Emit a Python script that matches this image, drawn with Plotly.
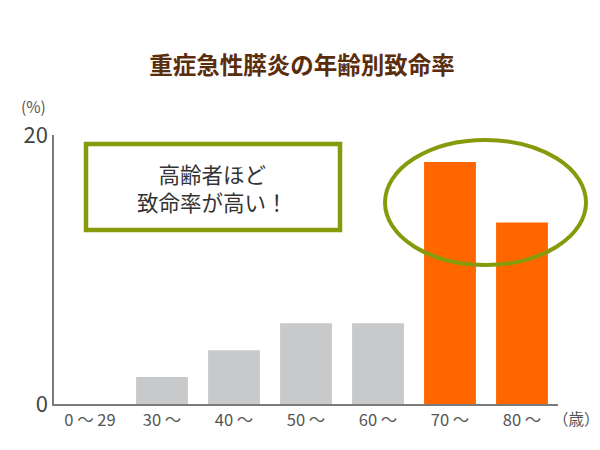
import plotly.graph_objects as go

# age groups and fatality rate (%)
age_groups = ["0 ～ 29", "30 ～", "40 ～", "50 ～", "60 ～", "70 ～", "80 ～"]
fatality = [0, 2, 4, 6, 6, 18, 13.5]
highlight = [False, False, False, False, False, True, True]

GREY = "#c8c9ca"
ORANGE = "#ff6600"
OLIVE = "#879a0c"
FONT = "Noto Sans CJK JP"

bar_colors = [ORANGE if h else GREY for h in highlight]

fig = go.Figure()
fig.add_trace(go.Bar(
    x=age_groups, y=fatality,
    marker=dict(color=bar_colors, line=dict(width=0)),
    width=0.72,
    hoverinfo="x+y",
))

# page body adds ~8px offset, so margins are shifted back by that much
fig.update_layout(
    width=600, height=450,
    margin=dict(l=46, r=50, t=127, b=54),
    paper_bgcolor="white", plot_bgcolor="white",
    font=dict(family=FONT, color="#555555"),
    showlegend=False,
    title=dict(
        text="<b>重症急性膵炎の年齢別致命率</b>",
        font=dict(size=23.5, color="#5a2d0c", family=FONT),
        x=(302 - 8) / 600, xanchor="center", y=1 - 58 / 450, yanchor="middle",
    ),
)

fig.update_xaxes(
    range=[-0.5, 6.5], automargin=False,
    showline=True, linecolor="#7a7a7a", linewidth=2,
    showgrid=False, ticks="",
    tickfont=dict(size=16.5, color="#555555"),
)
fig.update_yaxes(
    range=[0, 20], automargin=False,
    tickvals=[0, 20], ticktext=["0", "20"],
    showline=True, linecolor="#7a7a7a", linewidth=1.5,
    showgrid=False, zeroline=False, ticks="",
    tickfont=dict(size=22, color="#444444"),
)

# units
fig.add_annotation(text="(%)", xref="paper", yref="paper", x=-0.04, y=1.108,
                   xanchor="center", yanchor="middle",
                   showarrow=False, font=dict(size=15.5, color="#555555"))
fig.add_annotation(text="（歳）", xref="paper", yref="paper", x=1.036, y=-0.052,
                   xanchor="center", yanchor="middle",
                   showarrow=False, font=dict(size=15.5, color="#555555"))

# callout box
fig.add_shape(type="rect", xref="paper", yref="paper",
              x0=32 / 504, x1=286 / 504, y0=(404 - 230) / 269, y1=(404 - 144) / 269,
              line=dict(color=OLIVE, width=4.5), fillcolor="white", layer="above")
fig.add_annotation(text="高齢者ほど<br>致命率が高い！", xref="paper", yref="paper",
                   x=158 / 504, y=(404 - 187) / 269, xanchor="center", yanchor="middle",
                   showarrow=False, font=dict(size=21.5, color="#333333"), align="center")

# ellipse around 70+ bars
fig.add_shape(type="circle", xref="paper", yref="paper",
              x0=331 / 504, x1=532 / 504, y0=(404 - 265) / 269, y1=(404 - 140) / 269,
              line=dict(color=OLIVE, width=4), layer="above")

fig.write_html("out.html")
